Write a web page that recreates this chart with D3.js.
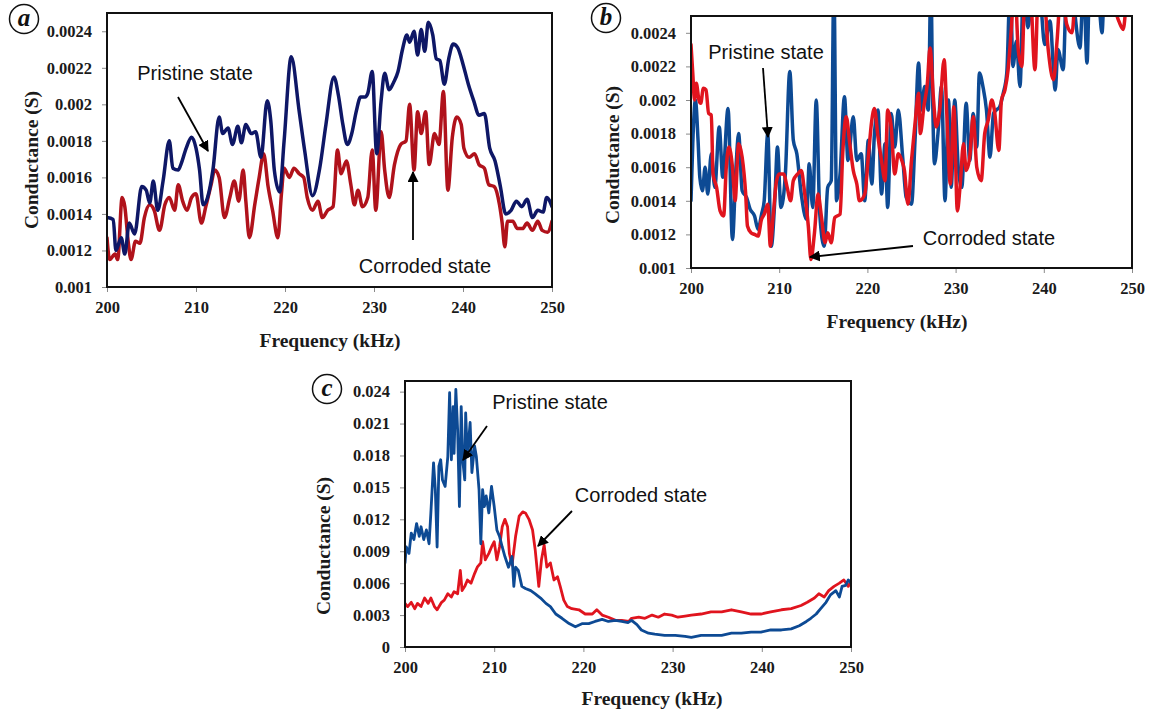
<!DOCTYPE html>
<html>
<head>
<meta charset="utf-8">
<script src="https://cdn.jsdelivr.net/npm/d3@7"></script>
<style>
  body { margin: 0; background: #fff; }
  svg { display: block; }
</style>
</head>
<body>
<svg id="fig" width="1152" height="713"></svg>
<script>
// ---- data ----
const freqTicks = [200, 210, 220, 230, 240, 250];
const condTicksAB = [0.001, 0.0012, 0.0014, 0.0016, 0.0018, 0.002, 0.0022, 0.0024];
const condLabelsAB = ["0.001", "0.0012", "0.0014", "0.0016", "0.0018", "0.002", "0.0022", "0.0024"];
const condTicksC = [0, 0.003, 0.006, 0.009, 0.012, 0.015, 0.018, 0.021, 0.024];
const condLabelsC = ["0", "0.003", "0.006", "0.009", "0.012", "0.015", "0.018", "0.021", "0.024"];

// panel a  [frequency kHz, conductance S]
const pristineA = [
  [200,0.00138],[200.7,0.00137],[201,0.0012],[201.6,0.00127],[202,0.00118],[202.5,0.00135],[203.1,0.00129],
  [203.9,0.00155],[204.4,0.00153],[204.8,0.00146],[205.2,0.00158],[205.7,0.00142],[206.3,0.00158],[207,0.0018],
  [207.4,0.00165],[208,0.00164],[208.3,0.00167],[208.9,0.00176],[209.5,0.00182],[210,0.00176],[210.4,0.00164],
  [210.8,0.00145],[211.3,0.00149],[211.9,0.00164],[212.6,0.00193],[213,0.00184],[213.6,0.00187],[214.1,0.00178],
  [214.7,0.00188],[215.1,0.00179],[215.6,0.00189],[216.2,0.00184],[216.7,0.00185],[217.3,0.00171],[218,0.00202],
  [218.4,0.00191],[218.8,0.00164],[219.4,0.00152],[219.9,0.0018],[220.7,0.00226],[221.6,0.00196],[222.2,0.00175],
  [223.1,0.0015],[223.9,0.00165],[224.6,0.00189],[225.5,0.00215],[226,0.00205],[226.5,0.00189],[227,0.00178],
  [227.5,0.00184],[228,0.00196],[228.5,0.00204],[229,0.00204],[229.3,0.00206],[229.8,0.00218],[230.3,0.00173],
  [230.8,0.00202],[231.2,0.00217],[231.7,0.00208],[232.2,0.00212],[232.7,0.00218],[233.2,0.0023],[233.7,0.00238],
  [234,0.00234],[234.5,0.0024],[234.9,0.00227],[235.3,0.00241],[235.7,0.00229],[236.1,0.00245],[236.6,0.00238],
  [237,0.00225],[237.4,0.00224],[237.9,0.00211],[238.4,0.00225],[238.9,0.00233],[239.4,0.00231],[240,0.00222],
  [240.6,0.00211],[241.2,0.00202],[241.8,0.00194],[242.4,0.00195],[243,0.00176],[243.6,0.00169],[244.2,0.00155],
  [244.8,0.0014],[245.4,0.00142],[246,0.00147],[246.6,0.00144],[247.2,0.00148],[247.8,0.00138],[248.4,0.00142],
  [249,0.00141],[249.4,0.00149],[250,0.00144]
];
const corrodedA = [
  [200,0.00127],[200.3,0.00115],[200.9,0.00118],[201.2,0.00115],[201.7,0.00149],[202,0.00144],[202.4,0.00124],
  [202.7,0.00115],[203.2,0.00125],[203.7,0.00124],[204.2,0.00138],[204.8,0.00145],[205.3,0.00142],[205.9,0.00131],
  [206.5,0.00145],[207,0.00149],[207.6,0.00142],[208,0.00156],[208.5,0.00147],[209,0.00142],[209.5,0.00149],
  [210,0.00151],[210.6,0.00135],[211.1,0.00144],[211.7,0.00156],[212.1,0.00164],[212.6,0.0016],[213.2,0.00138],
  [213.8,0.00149],[214.3,0.00158],[214.8,0.00147],[215.3,0.00164],[215.6,0.00147],[216,0.00127],[216.6,0.00145],
  [217.1,0.0016],[217.6,0.00173],[218.1,0.00155],[218.6,0.00142],[219.2,0.00127],[219.6,0.00151],[219.9,0.00165],
  [220.5,0.0016],[221,0.00165],[221.6,0.00162],[222.1,0.0016],[222.5,0.00149],[223.1,0.00142],[223.7,0.00147],
  [224.2,0.00138],[224.8,0.00142],[225.4,0.00144],[225.9,0.00175],[226.3,0.00162],[226.9,0.00169],[227.4,0.00156],
  [227.8,0.00145],[228.2,0.00153],[228.7,0.00144],[229.3,0.00149],[229.8,0.00175],[230.2,0.00142],[230.8,0.00185],
  [231.2,0.00164],[231.7,0.00149],[232.3,0.00167],[233,0.00178],[233.6,0.0018],[234,0.002],[234.5,0.00164],
  [234.9,0.00196],[235.3,0.00184],[235.8,0.00196],[236.2,0.00167],[236.8,0.00184],[237.3,0.00178],[237.8,0.00207],
  [238.3,0.00153],[238.8,0.00182],[239.3,0.00193],[239.8,0.00189],[240.1,0.00176],[240.7,0.00171],[241.3,0.00173],
  [241.8,0.00167],[242.4,0.00165],[242.9,0.00156],[243.5,0.00155],[244.1,0.00145],[244.4,0.00135],[244.7,0.00122],
  [245,0.00136],[245.6,0.00136],[246.1,0.00132],[246.7,0.00132],[247.2,0.00135],[247.8,0.00131],[248.4,0.00136],
  [248.9,0.00131],[249.5,0.0013],[250,0.00136]
];

// panel b  (values above 0.0025 run off the top of the plot)
const pristineB = [
  [200,0.0014],[200.2,0.00174],[200.5,0.002],[200.8,0.00176],[201,0.00154],[201.3,0.00146],[201.6,0.0016],
  [201.9,0.00144],[202.3,0.00168],[202.7,0.00148],[203.2,0.00184],[203.6,0.00154],[204.2,0.00195],[204.7,0.00117],
  [205.1,0.0016],[205.4,0.0018],[205.8,0.00146],[206.3,0.00142],[206.7,0.00135],[207.2,0.00131],[207.6,0.00123],
  [208,0.00132],[208.3,0.0014],[208.7,0.0018],[209.1,0.00113],[209.5,0.0014],[209.8,0.00172],[210.2,0.00136],
  [210.7,0.00156],[211.2,0.00217],[211.6,0.00176],[212,0.00168],[212.5,0.00144],[213.1,0.00129],[213.4,0.00162],
  [213.8,0.00136],[214.2,0.002],[214.6,0.00132],[215.1,0.00113],[215.5,0.00148],[215.9,0.00152],[216.2,0.0027],
  [216.5,0.0014],[216.9,0.00156],[217.4,0.00202],[217.8,0.00164],[218.4,0.0019],[218.8,0.00164],[219.3,0.00168],
  [219.7,0.0014],[220.1,0.00176],[220.5,0.0015],[220.8,0.0018],[221.2,0.00194],[221.6,0.00144],[222,0.00174],
  [222.3,0.00136],[222.7,0.00192],[223.1,0.00172],[223.5,0.00194],[224,0.00166],[224.4,0.00142],[225,0.00138],
  [225.4,0.00176],[225.8,0.00222],[226.1,0.00194],[226.5,0.00208],[226.9,0.00194],[227.2,0.0027],[227.4,0.002],
  [227.6,0.00162],[228,0.0018],[228.4,0.00208],[228.8,0.0014],[229.2,0.002],[229.5,0.00148],[229.9,0.002],
  [230.3,0.0016],[230.7,0.00148],[231.2,0.00198],[231.6,0.00164],[232,0.00192],[232.4,0.00172],[232.7,0.00216],
  [233.1,0.00208],[233.5,0.00194],[233.9,0.00166],[234.3,0.00192],[234.6,0.00194],[235,0.00196],[235.4,0.00204],
  [235.8,0.00216],[236.2,0.0027],[236.5,0.0022],[236.9,0.00235],[237.3,0.00208],[237.7,0.0027],[238.2,0.00243],
  [238.8,0.0027],[239.6,0.0026],[240.1,0.00233],[240.7,0.00247],[241.3,0.00206],[241.6,0.0023],[242.2,0.00218],
  [242.6,0.0027],[243.3,0.0026],[244.1,0.00231],[244.5,0.0027],[244.9,0.00222],[245.2,0.0027],[246.2,0.0026],
  [246.6,0.0024],[246.9,0.0027],[248.3,0.0026],[250,0.0027]
];
const corrodedB = [
  [200,0.00233],[200.2,0.00216],[200.4,0.002],[200.6,0.0021],[200.9,0.002],[201.1,0.00198],[201.4,0.00207],
  [201.7,0.00206],[202,0.00192],[202.3,0.00191],[202.5,0.00156],[202.9,0.00148],[203.3,0.00134],[203.7,0.00131],
  [204,0.0016],[204.3,0.00172],[204.7,0.0016],[205,0.0014],[205.4,0.00174],[205.8,0.00166],[206.2,0.00144],
  [206.4,0.00125],[206.8,0.00121],[207.2,0.0012],[207.6,0.00119],[208,0.00129],[208.3,0.00132],[208.7,0.00138],
  [209,0.00113],[209.3,0.0013],[209.7,0.00152],[210,0.00156],[210.5,0.00156],[210.9,0.00148],[211.3,0.0014],
  [211.6,0.00152],[212.1,0.00156],[212.5,0.00158],[212.9,0.00144],[213.3,0.00125],[213.6,0.00105],[214,0.00121],
  [214.4,0.00144],[214.8,0.0013],[215.2,0.00115],[215.5,0.00121],[215.9,0.00115],[216.3,0.0013],[216.9,0.00132],
  [217.2,0.00168],[217.6,0.0019],[218,0.00174],[218.4,0.00158],[218.8,0.0015],[219.1,0.0014],[219.7,0.00144],
  [220.1,0.00166],[220.5,0.00188],[220.8,0.00195],[221.2,0.00178],[221.6,0.00164],[222,0.00152],[222.3,0.00194],
  [222.7,0.00184],[223.1,0.00156],[223.5,0.00168],[223.9,0.00164],[224.2,0.00158],[224.6,0.00138],[225,0.00164],
  [225.4,0.00186],[225.8,0.00204],[226,0.0018],[226.4,0.00196],[226.8,0.0021],[227.1,0.00231],[227.5,0.002],
  [227.8,0.00184],[228.2,0.00194],[228.7,0.00224],[229,0.00192],[229.4,0.0015],[229.8,0.00196],[230.2,0.00134],
  [230.5,0.00148],[230.9,0.00174],[231.2,0.00158],[231.6,0.00166],[232,0.0019],[232.4,0.0016],[232.9,0.00152],
  [233.3,0.0018],[233.7,0.00188],[234.1,0.002],[234.4,0.00194],[234.9,0.0017],[235.2,0.002],[235.6,0.00206],
  [235.95,0.00218],[236.3,0.00241],[236.7,0.0027],[237.1,0.0023],[237.5,0.0022],[237.9,0.0027],[238.4,0.0027],
  [239,0.00218],[239.4,0.0027],[239.9,0.0027],[240.5,0.0023],[241.1,0.00212],[241.5,0.00235],[242,0.0027],
  [242.6,0.00245],[243.2,0.0024],[243.7,0.0027],[244.9,0.0027],[246.4,0.00252],[247.1,0.0027],[248.5,0.00247],
  [249,0.00242],[249.4,0.0026],[250,0.0027]
];

// panel c
const pristineC = [
  [200,0.0079],[200.15,0.0094],[200.45,0.0088],[200.7,0.0107],[201,0.0101],[201.3,0.0116],[201.6,0.0104],
  [201.8,0.0113],[202.1,0.0101],[202.4,0.011],[202.7,0.0097],[202.9,0.0126],[203.2,0.0173],[203.4,0.0148],
  [203.6,0.0094],[203.8,0.017],[204,0.0176],[204.2,0.0157],[204.5,0.0151],[204.8,0.0179],[205,0.0239],
  [205.2,0.0176],[205.4,0.0226],[205.5,0.0182],[205.7,0.0242],[205.9,0.0204],[206.1,0.0132],[206.3,0.0226],
  [206.5,0.0173],[206.7,0.0157],[206.8,0.022],[207,0.0179],[207.3,0.0211],[207.5,0.0164],[207.8,0.0189],
  [208,0.0179],[208.3,0.0148],[208.5,0.0097],[208.7,0.0148],[208.9,0.0132],[209.1,0.0142],[209.4,0.0126],
  [209.7,0.0151],[210,0.0132],[210.3,0.011],[210.6,0.0104],[210.9,0.0094],[211.2,0.0085],[211.6,0.0075],
  [212,0.0085],[212.2,0.0057],[212.4,0.0075],[212.7,0.0072],[213.1,0.0057],[213.5,0.0055],[214.1,0.0053],
  [214.6,0.005],[215.2,0.0046],[215.8,0.0041],[216.3,0.0038],[216.9,0.0031],[217.6,0.0027],[218.4,0.0022],
  [219.1,0.0019],[219.9,0.0022],[220.6,0.0022],[221.3,0.0024],[222.1,0.0026],[222.8,0.0024],[223.6,0.0025],
  [224.3,0.0024],[225,0.0023],[225.4,0.0025],[226,0.0021],[226.5,0.0016],[227.3,0.0013],[228,0.0012],
  [229.1,0.0011],[230.3,0.0011],[231.4,0.001],[232.1,0.0009],[233.2,0.0011],[234.3,0.0011],[235.5,0.0011],
  [236.6,0.0013],[237.7,0.0013],[238.8,0.0014],[239.9,0.0014],[241,0.0016],[242.2,0.0016],[243.3,0.0017],
  [244.2,0.002],[245,0.0024],[245.5,0.0027],[246.1,0.0031],[246.6,0.0036],[247.2,0.0042],[247.7,0.0049],
  [248.3,0.0053],[248.7,0.0047],[249,0.0057],[249.4,0.0058],[249.7,0.0063],[250,0.006]
];
const corrodedC = [
  [200,0.0041],[200.3,0.0038],[200.7,0.0042],[201.1,0.0036],[201.4,0.0041],[201.8,0.0038],[202.2,0.0046],
  [202.6,0.0041],[202.9,0.0046],[203.3,0.0038],[203.6,0.0035],[204.1,0.0042],[204.4,0.0044],[204.8,0.005],
  [205.2,0.0047],[205.5,0.0052],[205.9,0.005],[206.2,0.0072],[206.4,0.0053],[206.7,0.0057],[207,0.0063],
  [207.4,0.006],[207.8,0.0069],[208.1,0.0075],[208.5,0.0079],[208.7,0.0099],[209,0.0082],[209.4,0.0088],
  [209.7,0.0094],[210,0.0099],[210.3,0.0082],[210.6,0.0094],[210.9,0.0113],[211.2,0.012],[211.5,0.0113],
  [211.7,0.0088],[212,0.0077],[212.4,0.0104],[212.8,0.0123],[213.2,0.0127],[213.5,0.0126],[213.9,0.012],
  [214.3,0.011],[214.6,0.0091],[215,0.0057],[215.3,0.0082],[215.6,0.0096],[215.9,0.0075],[216.3,0.0079],
  [216.7,0.0063],[217.1,0.0066],[217.4,0.0057],[217.8,0.0044],[218.2,0.0038],[218.7,0.0036],[219.5,0.0035],
  [220.2,0.0031],[221,0.0031],[221.5,0.0035],[222.1,0.003],[222.8,0.0028],[223.6,0.0025],[224.3,0.0025],
  [225.1,0.0024],[225.4,0.0027],[226.2,0.0028],[226.9,0.0027],[227.7,0.003],[228.4,0.0028],[229.1,0.0031],
  [229.9,0.003],[230.6,0.0028],[231.4,0.0029],[232.1,0.003],[233.2,0.0031],[234.3,0.0033],[235.5,0.0033],
  [236.6,0.0035],[237.7,0.0033],[238.8,0.0031],[239.9,0.0031],[241,0.0033],[242.2,0.0035],[243.3,0.0036],
  [244.4,0.0039],[245.1,0.0042],[245.9,0.0046],[246.4,0.005],[247,0.0047],[247.5,0.0053],[248.1,0.0057],
  [248.7,0.006],[249.2,0.0063],[249.7,0.0057],[250,0.0062]
];

// ---- layout / style ----
const serif = "'Liberation Serif', 'Times New Roman', serif";
const sans = "'Liberation Sans', Arial, sans-serif";

const svg = d3.select("#fig");
const defs = svg.append("defs");
defs.append("marker")
  .attr("id", "arrow")
  .attr("viewBox", "0 0 10 10")
  .attr("refX", 9).attr("refY", 5)
  .attr("markerWidth", 11).attr("markerHeight", 11)
  .attr("markerUnits", "userSpaceOnUse")
  .attr("orient", "auto")
  .append("path").attr("d", "M0,0 L10,5 L0,10 z").attr("fill", "#000");

const panels = [
  {
    id: "a", left: 107, right: 552, top: 13, bottom: 287,
    yDomain: [0.001, 0.0025], yTicks: condTicksAB, yLabels: condLabelsAB,
    series: [
      { data: corrodedA, color: "#b0121b", width: 3.5 },
      { data: pristineA, color: "#0e1766", width: 3.5 }
    ],
    curve: d3.curveMonotoneX,
    letter: { x: 24, y: 19 },
    yTitle: { x: 31, y: 160 }, xTitle: { x: 330, y: 347 },
    notes: [
      { text: "Pristine state", x: 195, y: 80, from: [178, 97], to: [208, 151] },
      { text: "Corroded state", x: 425, y: 273, from: [413, 240], to: [413, 172] }
    ]
  },
  {
    id: "b", left: 691, right: 1132, top: 16, bottom: 268,
    yDomain: [0.001, 0.0025], yTicks: condTicksAB, yLabels: condLabelsAB,
    series: [
      { data: pristineB, color: "#0d4a94", width: 3.5 },
      { data: corrodedB, color: "#e0141e", width: 3.5 }
    ],
    curve: d3.curveMonotoneX,
    letter: { x: 606, y: 18 },
    yTitle: { x: 612, y: 155 }, xTitle: { x: 897, y: 328 },
    notes: [
      { text: "Pristine state", x: 766, y: 59, from: [763, 68], to: [768, 137] },
      { text: "Corroded state", x: 989, y: 245, from: [913, 246], to: [810, 257] }
    ]
  },
  {
    id: "c", left: 405, right: 851, top: 381, bottom: 647,
    yDomain: [0, 0.025], yTicks: condTicksC, yLabels: condLabelsC,
    series: [
      { data: corrodedC, color: "#e0141e", width: 2.8 },
      { data: pristineC, color: "#0d4a94", width: 2.8 }
    ],
    curve: d3.curveLinear,
    letter: { x: 327, y: 389 },
    yTitle: { x: 323, y: 546 }, xTitle: { x: 652, y: 705 },
    notes: [
      { text: "Pristine state", x: 550, y: 409, from: [487, 426], to: [463, 460] },
      { text: "Corroded state", x: 641, y: 502, from: [572, 511], to: [538, 546] }
    ]
  }
];

panels.forEach(p => drawPanel(p));

function drawPanel(p) {
  const x = d3.scaleLinear().domain([200, 250]).range([p.left, p.right]);
  const y = d3.scaleLinear().domain(p.yDomain).range([p.bottom, p.top]);
  const g = svg.append("g");

  defs.append("clipPath").attr("id", "clip-" + p.id)
    .append("rect")
    .attr("x", p.left).attr("y", p.top)
    .attr("width", p.right - p.left).attr("height", p.bottom - p.top);

  // y axis
  const yAxis = g.append("g")
    .attr("transform", `translate(${p.left},0)`)
    .call(d3.axisLeft(y).tickValues(p.yTicks).tickSize(5).tickPadding(10)
      .tickFormat((d, i) => p.yLabels[i]));
  // x axis
  const xAxis = g.append("g")
    .attr("transform", `translate(0,${p.bottom})`)
    .call(d3.axisBottom(x).tickValues(freqTicks).tickSize(5).tickPadding(9).tickFormat(d3.format("d")));

  [yAxis, xAxis].forEach(a => {
    a.select(".domain").remove();
    a.selectAll(".tick line").attr("stroke", "#8a8a8a").attr("stroke-width", 1);
    a.selectAll("text")
      .attr("fill", "#1a1a1a")
      .style("font-family", serif)
      .style("font-weight", "bold")
      .style("font-size", "16.5px");
  });

  // lines
  const line = d3.line().x(d => x(d[0])).y(d => y(d[1])).curve(p.curve);
  const lines = g.append("g").attr("clip-path", `url(#clip-${p.id})`);
  p.series.forEach(s => {
    lines.append("path")
      .datum(s.data)
      .attr("fill", "none")
      .attr("stroke", s.color)
      .attr("stroke-width", s.width)
      .attr("stroke-linejoin", "round")
      .attr("stroke-linecap", "round")
      .attr("d", line);
  });

  // frame
  g.append("rect")
    .attr("x", p.left).attr("y", p.top)
    .attr("width", p.right - p.left).attr("height", p.bottom - p.top)
    .attr("fill", "none").attr("stroke", "#111").attr("stroke-width", 2);

  // axis titles
  g.append("text")
    .attr("x", p.xTitle.x).attr("y", p.xTitle.y)
    .attr("text-anchor", "middle")
    .style("font-family", serif)
    .style("font-weight", "bold").style("font-size", "19.5px")
    .attr("fill", "#1a1a1a")
    .text("Frequency (kHz)");
  g.append("text")
    .attr("transform", `translate(${p.yTitle.x},${p.yTitle.y}) rotate(-90)`)
    .attr("text-anchor", "middle").attr("dy", "0.35em")
    .style("font-family", serif)
    .style("font-weight", "bold").style("font-size", "19.5px")
    .attr("fill", "#1a1a1a")
    .text("Conductance (S)");

  // annotations
  p.notes.forEach(n => {
    g.append("line")
      .attr("x1", n.from[0]).attr("y1", n.from[1])
      .attr("x2", n.to[0]).attr("y2", n.to[1])
      .attr("stroke", "#000").attr("stroke-width", 1.8)
      .attr("marker-end", "url(#arrow)");
    g.append("text")
      .attr("x", n.x).attr("y", n.y)
      .attr("text-anchor", "middle")
      .style("font-family", sans)
      .style("font-size", "20px")
      .attr("fill", "#111")
      .text(n.text);
  });

  // circled panel letter
  g.append("circle")
    .attr("cx", p.letter.x).attr("cy", p.letter.y).attr("r", 14.5)
    .attr("fill", "none").attr("stroke", "#111").attr("stroke-width", 1.5);
  g.append("text")
    .attr("x", p.letter.x).attr("y", p.letter.y + 7)
    .attr("text-anchor", "middle")
    .style("font-family", serif)
    .style("font-style", "italic").style("font-weight", "bold")
    .style("font-size", "25px")
    .attr("fill", "#111")
    .text(p.id);
}
</script>
</body>
</html>
